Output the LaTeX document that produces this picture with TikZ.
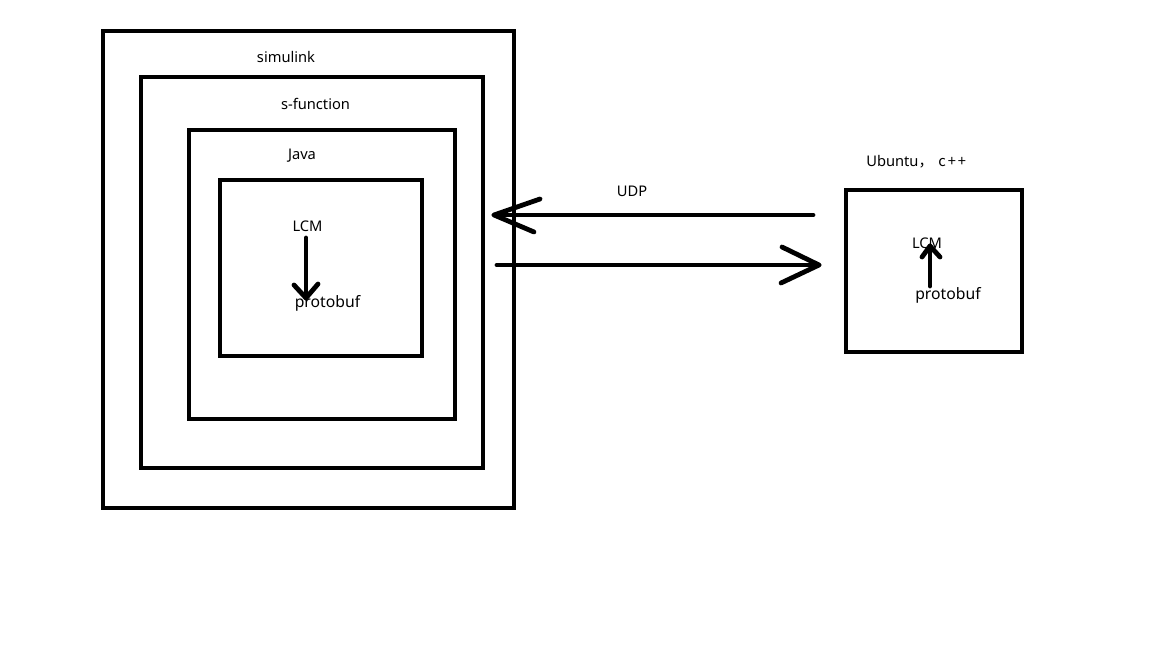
\documentclass[tikz,border=0pt]{standalone}
\usepackage{fontspec}
\setmainfont{Noto Sans}
\newfontfamily\cjk{Noto Sans CJK SC}
\begin{document}
\begin{tikzpicture}[x=0.75pt,y=-0.75pt,
  box/.style={draw=black,line width=3.6pt,inner sep=0pt,outer sep=0pt,fill=none},
  lbl/.style={inner sep=0pt,font=\fontsize{11pt}{13pt}\selectfont,text=black},
  biglbl/.style={inner sep=0pt,font=\fontsize{11.8pt}{14pt}\selectfont,text=black},
  stroke/.style={line width=3.6pt,line cap=round,line join=round}]
\fill[white] (0,0) rectangle (1152,648);
\useasboundingbox (0,0) rectangle (1152,648);
% boxes
\node[box,minimum width=411*0.75pt,minimum height=477*0.75pt] (simbox) at (308.5,269.5) {};
\node[box,minimum width=342*0.75pt,minimum height=391*0.75pt] (sfbox) at (312,272.5) {};
\node[box,minimum width=266*0.75pt,minimum height=289*0.75pt] (javabox) at (322,274.5) {};
\node[box,minimum width=202*0.75pt,minimum height=176*0.75pt] (lcmbox) at (321,268) {};
\node[box,minimum width=176*0.75pt,minimum height=162*0.75pt] (ubox) at (934,271) {};
% labels
\node[lbl] (simlbl) at (286,57) {simulink};
\node[lbl] (sflbl) at (315.5,104) {s-function};
\node[lbl] (javalbl) at (302,156) {Java};
\node[lbl] (lcmL) at (307.5,226) {LCM};
\node[biglbl] (pbL) at (327.5,303) {protobuf};
\node[lbl] (udp) at (632,191) {UDP};
\node[lbl,anchor=west] (ulbl) at (866,162) {Ubuntu\cjk{，}\hspace{0.35em}c\kern1.5pt+\kern1.5pt+};
\node[lbl] (lcmR) at (927,243) {LCM};
\node[biglbl] (pbR) at (948,295) {protobuf};
% left inner arrow LCM -> protobuf
\coordinate (la1) at (306,238);
\coordinate (la2) at (306,298);
\coordinate (lb1) at (294,285);
\coordinate (lb2) at (318,284);
\draw[stroke] (la1) -- (la2);
\draw[stroke] (lb1) -- (la2) -- (lb2);
% right inner arrow protobuf -> LCM
\coordinate (ra1) at (930,286);
\coordinate (ra2) at (930,246);
\coordinate (rb1) at (922,257);
\coordinate (rb2) at (940,257);
\draw[stroke] (ra1) -- (ra2);
\draw[stroke] (rb1) -- (ra2) -- (rb2);
% UDP arrow top (right to left)
\coordinate (t1) at (813,215);
\coordinate (t2) at (494,215);
\coordinate (tb1) at (540,199);
\coordinate (tb2) at (534,232);
\draw[stroke] (t1) -- (t2);
\draw[stroke] (tb1) -- (t2) -- (tb2);
% UDP arrow bottom (left to right)
\coordinate (b1) at (497,265);
\coordinate (b2) at (819,265);
\coordinate (bb1) at (782,247);
\coordinate (bb2) at (781,283);
\draw[stroke] (b1) -- (b2);
\draw[stroke] (bb1) -- (b2) -- (bb2);
\end{tikzpicture}
\end{document}
